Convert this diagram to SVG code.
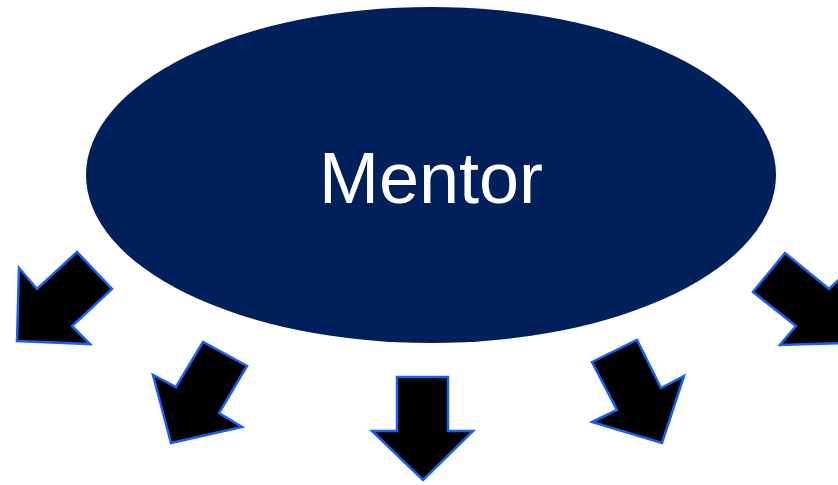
<svg xmlns="http://www.w3.org/2000/svg" width="838" height="485" viewBox="0 0 838 485">
<style>
.arr{fill:#000000;stroke:#1a5ff0;stroke-width:2.5;stroke-linejoin:miter}
.lbl{font-family:"Liberation Sans",Arial,sans-serif;font-size:72px;fill:#ffffff;text-anchor:middle}
</style>
<rect width="838" height="485" fill="#ffffff"/>
<g id="mentor">
<ellipse cx="431" cy="175" rx="345" ry="168" fill="#00205b"/>
<text class="lbl" x="431" y="203">Mentor</text>
</g>
<g id="connectors">
<polygon id="arrow1" class="arr" points="17,341 19,268 37,289 77,252 112,289 72,326 90,344"/>
<polygon id="arrow2" class="arr" points="171,443 153,375 176,387 203,342 247,366 219,413 242,427"/>
<polygon id="arrow3" class="arr" points="397,377 448,377 448,431 473,431 423,480 372,431 397,431"/>
<polygon id="arrow4" class="arr" points="592,362 637,340 661,388 684,376 662,443 592,422 617,410"/>
<polygon id="arrow5" class="arr" points="785,253 829,289 849,270 851,343 780,345 796,326 753,292"/>
</g>
</svg>
